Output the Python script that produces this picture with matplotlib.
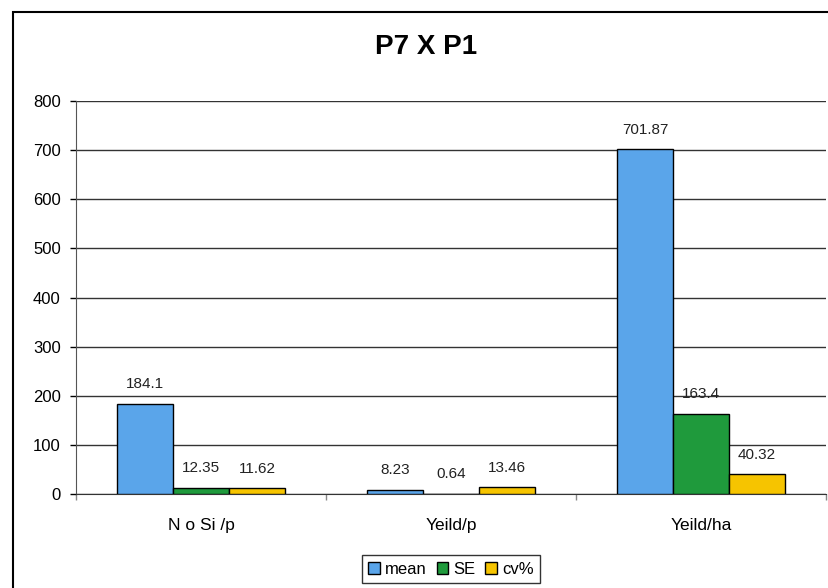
import matplotlib
matplotlib.use("Agg")
import matplotlib.pyplot as plt
import matplotlib.patches as patches
import numpy as np

plt.rcParams['font.family'] = ['Liberation Sans', 'DejaVu Sans']

categories = ['N o Si /p', 'Yeild/p', 'Yeild/ha']
series_names = ['mean', 'SE', 'cv%']
mean_vals = [184.1, 8.23, 701.87]
se_vals = [12.35, 0.64, 163.4]
cv_vals = [11.62, 13.46, 40.32]
mean_labels = ['184.1', '8.23', '701.87']
se_labels = ['12.35', '0.64', '163.4']
cv_labels = ['11.62', '13.46', '40.32']
y_ticks = [0, 100, 200, 300, 400, 500, 600, 700, 800]

colors = ['#5aa5ea', '#1f9a3c', '#f6c400']

W, H = 829, 588
fig = plt.figure(figsize=(W / 100, H / 100), dpi=100)
ax = fig.add_axes([76 / W, 1 - 494 / H, 750 / W, (494 - 101) / H])

x = np.arange(len(categories))
bw = 0.224
series = [(mean_vals, mean_labels), (se_vals, se_labels), (cv_vals, cv_labels)]
for i, ((vals, labs), name) in enumerate(zip(series, series_names)):
    pos = x + (i - 1) * bw
    bars = ax.bar(pos, vals, width=bw, color=colors[i], edgecolor='black',
                  linewidth=1.0, label=name, zorder=3)
    for b, lab in zip(bars, labs):
        ax.annotate(lab, (b.get_x() + b.get_width() / 2, b.get_height()),
                    xytext=(0, 9), textcoords='offset points',
                    ha='center', va='bottom', fontsize=11, color='#222222')

ax.set_xlim(-0.5, len(categories) - 0.5)
ax.set_ylim(0, 800)
ax.set_yticks(y_ticks)
ax.tick_params(axis='y', labelsize=12, length=4, width=1, pad=7, direction='out')
ax.yaxis.grid(True, color='#333333', linewidth=1.0, zorder=0)

ax.set_xticks(x)
ax.set_xticklabels(categories, fontsize=12.5)
ax.tick_params(axis='x', length=0, pad=17)
ax.set_xticks(np.arange(-0.5, len(categories)), minor=True)
ax.tick_params(axis='x', which='minor', length=4, width=1, direction='out', color='#888888')

for s in ['top', 'right']:
    ax.spines[s].set_visible(False)
ax.spines['left'].set_color('#555555')
ax.spines['bottom'].set_color('#333333')

fig.text(426 / W, 1 - 47 / H, 'P7 X P1', ha='center', va='center',
         fontsize=20, fontweight='bold')

leg = fig.legend(loc='center', bbox_to_anchor=(451 / W, 1 - 569 / H), ncol=3,
                 fontsize=12, frameon=True, fancybox=False, edgecolor='black',
                 handlelength=0.7, handleheight=0.7, handletextpad=0.3,
                 columnspacing=0.6, borderpad=0.4)
leg.get_frame().set_linewidth(1.0)

border = patches.Rectangle((13 / W, -0.05), 1.1, 1 - 12 / H + 0.05,
                           transform=fig.transFigure, fill=False,
                           edgecolor='black', linewidth=1.5)
fig.patches.append(border)

fig.savefig('out.png', dpi=100)
